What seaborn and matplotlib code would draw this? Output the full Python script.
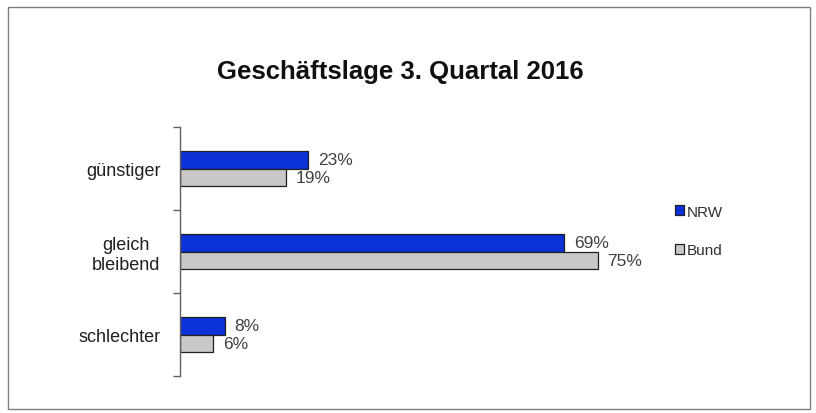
import matplotlib
matplotlib.use("Agg")
import matplotlib.pyplot as plt
import seaborn as sns
import pandas as pd
from matplotlib.patches import Rectangle

categories = ["günstiger", "gleich\nbleibend", "schlechter"]
series = ["NRW", "Bund"]
nrw = [23, 69, 8]
bund = [19, 75, 6]
colors = {"NRW": "#0A32D8", "Bund": "#C8C8C8"}

df = pd.DataFrame({
    "Kategorie": categories * 2,
    "Wert": nrw + bund,
    "Serie": ["NRW"] * 3 + ["Bund"] * 3,
})

sns.set_theme(style="white")
plt.rcParams["font.family"] = ["Liberation Sans", "DejaVu Sans"]

fig = plt.figure(figsize=(8.16, 4.14), dpi=100)
fig.patch.set_facecolor("white")
ax = fig.add_axes([180/816, 1-377/414, 460/816, (377-128)/414])

sns.barplot(data=df, y="Kategorie", x="Wert", hue="Serie", order=categories,
            hue_order=series, palette=colors, orient="h", width=0.42,
            saturation=1, edgecolor="#202020", linewidth=0.9, ax=ax, legend=False)

ax.set_xlim(0, 82.6)
ax.set_ylim(2.5, -0.5)
ax.set_xlabel("")
ax.set_ylabel("")
ax.set_xticks([])
for s in ["top", "right", "bottom"]:
    ax.spines[s].set_visible(False)
ax.spines["left"].set_color("#606060")
ax.spines["left"].set_linewidth(1.0)
ax.set_yticks([0, 1, 2])
ax.set_yticklabels(categories, fontsize=13, color="#202020", ha="right",
                   multialignment="center")
ax.tick_params(axis="y", which="major", length=0, pad=14)
ax.set_yticks([-0.5, 0.5, 1.5, 2.5], minor=True)
ax.tick_params(axis="y", which="minor", left=True, length=5, width=1.0,
               color="#606060", direction="out")

for cont, vals in zip(ax.containers, [nrw, bund]):
    ax.bar_label(cont, labels=[f"{v}%" for v in vals], padding=7,
                 fontsize=12.5, color="#404040")

handles = [Rectangle((0, 0), 1, 1, facecolor=colors[s], edgecolor="#202020", linewidth=0.9)
           for s in series]
fig.legend(handles, series, loc="center left", bbox_to_anchor=(0.81, 0.44),
           frameon=False, handlelength=0.6, handleheight=0.6, handletextpad=0.2,
           labelspacing=1.6, fontsize=11, labelcolor="#303030")

fig.text(400/816, 1-72/414, "Geschäftslage 3. Quartal 2016", ha="center", va="center",
         fontsize=18.5, fontweight="bold", color="#101010")

fig.add_artist(Rectangle((8/816, 4/414), 802/816, 402/414, transform=fig.transFigure,
                         fill=False, edgecolor="#808080", linewidth=1.0))

fig.savefig("out.png", dpi=100, facecolor="white")
